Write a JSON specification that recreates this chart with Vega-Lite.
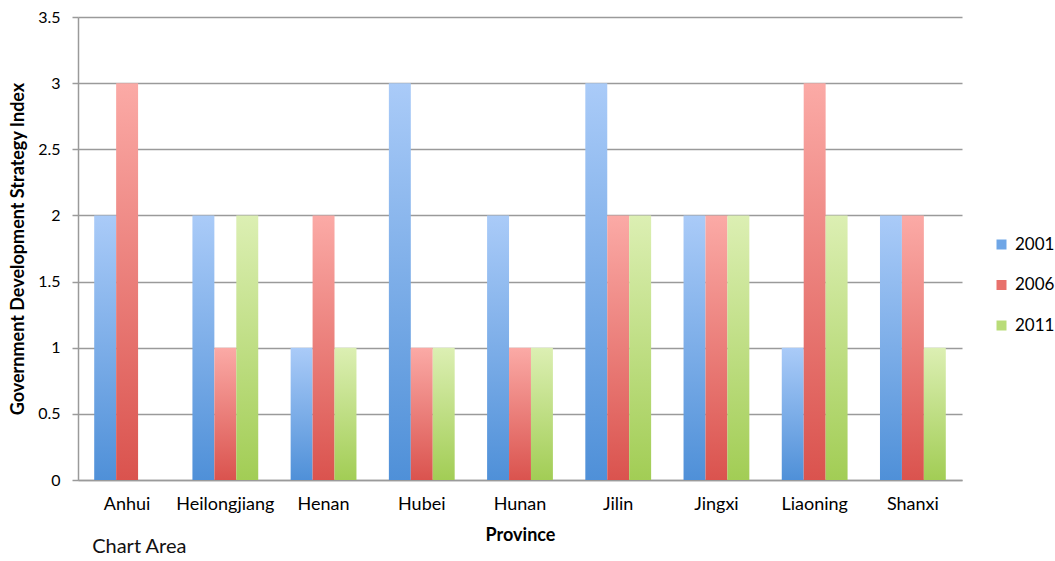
{
  "$schema": "https://vega.github.io/schema/vega-lite/v6.json",
  "width": 884,
  "height": 463,
  "autosize": "none",
  "padding": {"left": 78, "top": 17, "right": 93, "bottom": 81},
  "background": "white",
  "title": {
    "text": "Chart Area",
    "orient": "bottom",
    "anchor": "start",
    "font": "Lato",
    "fontSize": 20,
    "fontWeight": "normal",
    "color": "#111111",
    "dx": 83,
    "offset": -7
  },
  "data": {
    "values": [
      {"province": "Anhui", "year": "2001", "value": 2},
      {"province": "Anhui", "year": "2006", "value": 3},
      {"province": "Heilongjiang", "year": "2001", "value": 2},
      {"province": "Heilongjiang", "year": "2006", "value": 1},
      {"province": "Heilongjiang", "year": "2011", "value": 2},
      {"province": "Henan", "year": "2001", "value": 1},
      {"province": "Henan", "year": "2006", "value": 2},
      {"province": "Henan", "year": "2011", "value": 1},
      {"province": "Hubei", "year": "2001", "value": 3},
      {"province": "Hubei", "year": "2006", "value": 1},
      {"province": "Hubei", "year": "2011", "value": 1},
      {"province": "Hunan", "year": "2001", "value": 2},
      {"province": "Hunan", "year": "2006", "value": 1},
      {"province": "Hunan", "year": "2011", "value": 1},
      {"province": "Jilin", "year": "2001", "value": 3},
      {"province": "Jilin", "year": "2006", "value": 2},
      {"province": "Jilin", "year": "2011", "value": 2},
      {"province": "Jingxi", "year": "2001", "value": 2},
      {"province": "Jingxi", "year": "2006", "value": 2},
      {"province": "Jingxi", "year": "2011", "value": 2},
      {"province": "Liaoning", "year": "2001", "value": 1},
      {"province": "Liaoning", "year": "2006", "value": 3},
      {"province": "Liaoning", "year": "2011", "value": 2},
      {"province": "Shanxi", "year": "2001", "value": 2},
      {"province": "Shanxi", "year": "2006", "value": 2},
      {"province": "Shanxi", "year": "2011", "value": 1}
    ]
  },
  "mark": {"type": "bar"},
  "encoding": {
    "x": {
      "field": "province",
      "type": "nominal",
      "sort": null,
      "scale": {"paddingInner": 0.33, "paddingOuter": 0.165},
      "axis": {
        "title": "Province",
        "labelAngle": 0,
        "ticks": false,
        "domainColor": "#9a9a9a",
        "domainWidth": 1.5,
        "labelFont": "Lato",
        "labelFontSize": 18,
        "labelColor": "#000000",
        "labelPadding": 15,
        "titleFont": "Lato",
        "titleFontSize": 18,
        "titleFontWeight": "bold",
        "titleColor": "#000000",
        "titlePadding": 13
      }
    },
    "xOffset": {"field": "year", "type": "nominal", "scale": {"paddingInner": 0}},
    "y": {
      "field": "value",
      "type": "quantitative",
      "scale": {"domain": [0, 3.5]},
      "axis": {
        "title": "Government Development Strategy Index",
        "values": [0, 0.5, 1, 1.5, 2, 2.5, 3, 3.5],
        "format": "~g",
        "grid": true,
        "gridColor": "#9a9a9a",
        "gridWidth": 1.5,
        "domainColor": "#9a9a9a",
        "domainWidth": 1.5,
        "tickColor": "#9a9a9a",
        "tickWidth": 1.5,
        "tickSize": 6,
        "labelFont": "Lato",
        "labelFontSize": 16,
        "labelColor": "#000000",
        "labelPadding": 12,
        "titleFont": "Lato",
        "titleFontSize": 18,
        "titleFontWeight": "bold",
        "titleColor": "#000000",
        "titlePadding": 10.5
      }
    },
    "color": {
      "condition": [
        {"test": "datum.year === '2001'", "value": {"gradient": "linear", "x1": 0, "y1": 0, "x2": 0, "y2": 1, "stops": [{"offset": 0, "color": "#aacbf8"}, {"offset": 1, "color": "#4f90d8"}]}},
        {"test": "datum.year === '2006'", "value": {"gradient": "linear", "x1": 0, "y1": 0, "x2": 0, "y2": 1, "stops": [{"offset": 0, "color": "#fbaaa6"}, {"offset": 1, "color": "#da534e"}]}},
        {"test": "datum.year === '2011'", "value": {"gradient": "linear", "x1": 0, "y1": 0, "x2": 0, "y2": 1, "stops": [{"offset": 0, "color": "#dcefb3"}, {"offset": 1, "color": "#a2cd55"}]}}
      ],
      "field": "year",
      "type": "nominal",
      "scale": {
        "domain": ["2001", "2006", "2011"],
        "range": ["#6fa6e6", "#e8716c", "#b9dc78"]
      },
      "legend": {
        "title": null,
        "orient": "none",
        "legendX": 915,
        "legendY": 219,
        "symbolType": "square",
        "symbolSize": 100,
        "symbolStrokeWidth": 0,
        "symbolOpacity": 1,
        "labelFont": "Lato",
        "labelFontSize": 17,
        "labelColor": "#000000",
        "labelOffset": 5,
        "rowPadding": 22.5
      }
    }
  },
  "config": {"view": {"stroke": null}}
}
